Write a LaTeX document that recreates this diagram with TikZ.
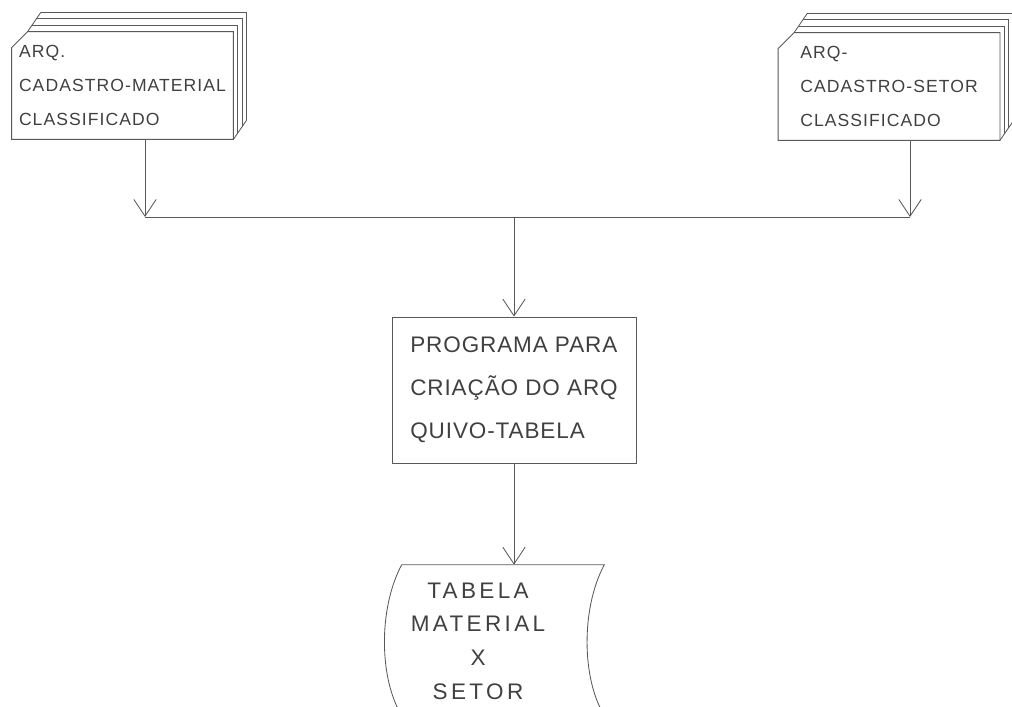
\documentclass[tikz,border=0pt]{standalone}
\usepackage{fontspec}
\usepackage{tikz}
\usetikzlibrary{positioning, arrows.meta}
\newfontfamily\hand{Liberation Sans}

\begin{document}
\begin{tikzpicture}[x=0.025cm, y=-0.025cm,
    line/.style={draw=black!65, line width=0.6pt},
    flow/.style={line, -{Straight Barb[length=4.2mm, width=5.6mm]}},
    deckface/.style={minimum width=5.53cm, minimum height=2.68cm, inner sep=0pt,
        align=left, text=black!75,
        font={\hand\fontsize{12.5}{24}\selectfont\addfontfeature{LetterSpace=6}}},
    progbox/.style={line, minimum width=6.1cm, minimum height=3.65cm, inner sep=0pt,
        align=left, text=black!75,
        font={\hand\fontsize{16}{30.5}\selectfont\addfontfeature{LetterSpace=4}}},
    tapebox/.style={minimum width=5.05cm, minimum height=3.75cm, inner sep=0pt},
    tapetext/.style={align=center, text=black!75, inner sep=0pt,
        font={\hand\fontsize{16}{24}\selectfont\addfontfeature{LetterSpace=15}}}]
    \useasboundingbox (0,0) rectangle (1012,707);
    \clip (0,0) rectangle (1012,707);

    % input files
    \node[deckface] (cadmat) at (122.5,85.5) {ARQ.\\CADASTRO-MATERIAL\\CLASSIFICADO};
    \node[deckface] (cadset) at (889,86.5) {ARQ-\\CADASTRO-SETOR\\CLASSIFICADO};
    \foreach \f in {cadmat,cadset} {
        \draw[line] ([yshift=-0.4cm]\f.north west) -- ([xshift=0.4cm]\f.north west)
            -- (\f.north east) -- (\f.south east) -- (\f.south west) -- cycle;
        \foreach \k in {1,2,3}
            \draw[line] ([shift={(0.4cm+\k*0.11cm,\k*0.16cm)}]\f.north west)
                -- ([shift={(\k*0.11cm,\k*0.16cm)}]\f.north east)
                -- ([shift={(\k*0.11cm,\k*0.16cm)}]\f.south east);
        \draw[line] ([xshift=0.4cm]\f.north west) -- ([shift={(0.73cm,0.48cm)}]\f.north west);
        \draw[line] (\f.south east) -- ([shift={(0.33cm,0.48cm)}]\f.south east);
    }

    % program
    \node[progbox] (program) at (514,390) {PROGRAMA PARA\\CRIAÇÃO DO ARQ\\QUIVO-TABELA};

    % output table
    \node[tapebox] (tabela) at (503,640) {};
    \draw[line] (tabela.north west) -- (tabela.north east)
        .. controls +(-24,45) and +(-22,-35) .. (tabela.south east)
        -- (tabela.south west)
        .. controls +(-22,-35) and +(-24,45) .. (tabela.north west);
    \node[tapetext] (tabelatxt) at (478,641) {TABELA\\MATERIAL\\X\\SETOR};

    % connectors
    \coordinate (jl) at (145,217);
    \coordinate (jr) at (910,217);
    \draw[flow] (cadmat.south -| jl) -- (jl);
    \draw[flow] (cadset.south -| jr) -- (jr);
    \draw[line] (jl) -- (jr);
    \draw[flow] (program.north |- jl) -- (program.north);
    \draw[flow] (program.south) -- (program.south |- tabela.north);
\end{tikzpicture}
\end{document}
